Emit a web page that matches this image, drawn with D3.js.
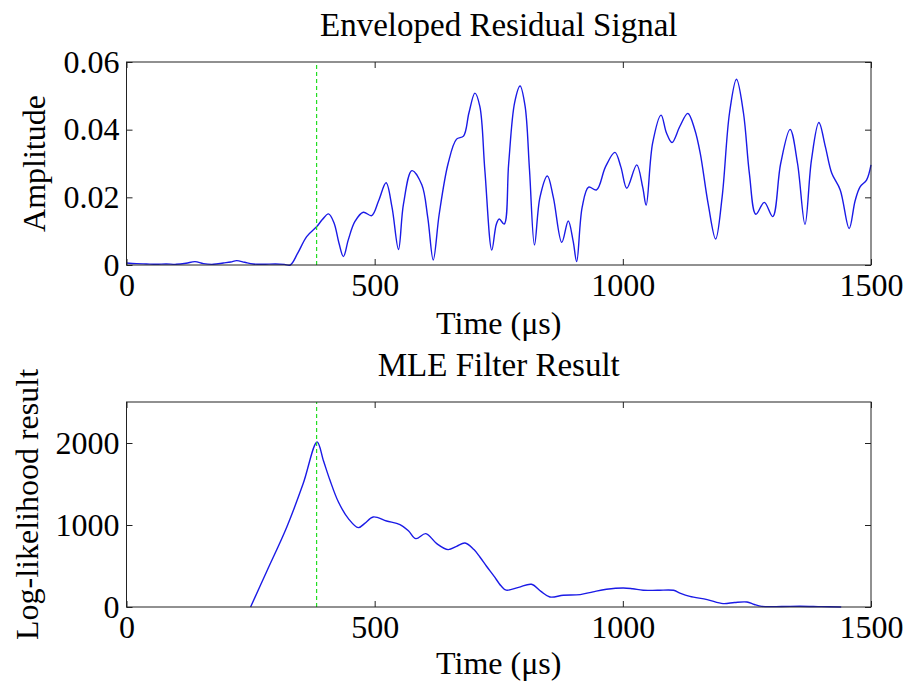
<!DOCTYPE html>
<html>
<head>
<meta charset="utf-8">
<script src="https://cdn.jsdelivr.net/npm/d3@7"></script>
<style>
  html, body { margin: 0; padding: 0; background: #fff; }
  svg text { font-family: "Liberation Serif", "Times New Roman", serif; fill: #000; }
</style>
</head>
<body>
<svg id="chart" width="907" height="688"></svg>
<script>
// Enveloped residual signal (time in µs, amplitude)
const envTime = [0,20,40,60,80,100,120,138,155,175,195,210,222,238,255,275,300,318,330,345,363,383,395,407,418,428,437,447,460,477,494,508,523,535,548,558,575,595,607,618,630,648,665,679,690,702,712,722,736,745,751,761,770,782,793,803,812,822,833,848,860,877,890,900,907,918,931,947,965,984,996,1008,1028,1040,1047,1060,1077,1088,1099,1115,1131,1145,1156,1172,1187,1200,1215,1229,1243,1255,1268,1285,1302,1318,1337,1352,1367,1380,1395,1408,1421,1438,1456,1468,1478,1491,1500];
const envAmp = [0.0006,0.0004,0.0003,0.0002,0.0003,0.0002,0.0005,0.0010,0.0004,0.0002,0.0006,0.0009,0.0013,0.0008,0.0003,0.0002,0.0003,0.0002,0.0000,0.0035,0.0084,0.0113,0.0135,0.0151,0.0125,0.0065,0.0025,0.0075,0.0128,0.0156,0.0146,0.0190,0.0243,0.0170,0.0046,0.0180,0.0279,0.0237,0.0140,0.0015,0.0150,0.0300,0.0372,0.0381,0.0450,0.0508,0.0468,0.0280,0.0044,0.0120,0.0136,0.0121,0.0300,0.0480,0.0529,0.0470,0.0280,0.0059,0.0200,0.0263,0.0200,0.0067,0.0130,0.0070,0.0010,0.0170,0.0230,0.0222,0.0290,0.0333,0.0290,0.0227,0.0296,0.0230,0.0177,0.0360,0.0443,0.0390,0.0362,0.0410,0.0448,0.0400,0.0330,0.0180,0.0077,0.0200,0.0450,0.0549,0.0450,0.0270,0.0150,0.0185,0.0143,0.0300,0.0401,0.0300,0.0120,0.0310,0.0421,0.0350,0.0271,0.0222,0.0108,0.0190,0.0231,0.0251,0.0296];

// MLE filter output (time in µs, log-likelihood)
const mleTime = [250,282,323,356,384,397,410,427,447,467,480,497,524,551,568,583,603,625,648,665,682,700,712,725,740,755,765,790,816,835,853,880,914,940,967,1001,1020,1041,1070,1102,1115,1135,1170,1202,1225,1250,1265,1280,1320,1357,1400,1440];
const mleValue = [0,427,976,1505,2012,1780,1545,1280,1078,968,1020,1098,1049,1005,930,834,895,773,700,740,780,700,610,500,380,255,205,240,277,190,122,143,151,185,216,232,222,204,204,204,170,130,90,41,55,61,30,8,6,10,4,0];

// Detected onset time
const onsetTime = 383;

// Axis ticks and text
const timeTicks = [0, 500, 1000, 1500];
const ampTicks = [0, 0.02, 0.04, 0.06];
const ampTickLabels = ["0", "0.02", "0.04", "0.06"];
const mleTicks = [0, 1000, 2000];
const titles = ["Enveloped Residual Signal", "MLE Filter Result"];
const xLabel = "Time (\u03bcs)";
const yLabels = ["Amplitude", "Log-likelihood result"];

const svg = d3.select("#chart");
const FONT = 32;
const TITLE_FONT = 33;
const left = 126.5, right = 871;

function panel(cfg) {
  const x = d3.scaleLinear().domain([0, 1500]).range([left, right]);
  const y = d3.scaleLinear().domain(cfg.yDomain).range([cfg.bottom, cfg.top]);
  const g = svg.append("g");

  // data line
  const line = d3.line()
    .x(d => x(d[0])).y(d => y(d[1]))
    .curve(d3.curveCatmullRom.alpha(0.5));
  const pts = cfg.t.map((t, i) => [t, cfg.v[i]]);
  g.append("path").datum(pts)
    .attr("d", line)
    .attr("fill", "none")
    .attr("stroke", "#1a1ae6")
    .attr("stroke-width", 1.4);

  // onset marker
  g.append("line")
    .attr("x1", x(onsetTime)).attr("x2", x(onsetTime))
    .attr("y1", y(cfg.yDomain[0])).attr("y2", y(cfg.yDomain[1]))
    .attr("stroke", "#22dd22").attr("stroke-width", 1.2)
    .attr("stroke-dasharray", "4,3");

  const tk = 6;
  // axes with inward ticks
  const xb = d3.axisBottom(x).tickValues(timeTicks).tickSizeInner(-tk).tickSizeOuter(0).tickPadding(8).tickFormat(d3.format("d"));
  const xt = d3.axisTop(x).tickValues(timeTicks).tickSizeInner(-tk).tickSizeOuter(0).tickFormat("");
  const yl = d3.axisLeft(y).tickValues(cfg.yTicks).tickSizeInner(-tk).tickSizeOuter(0).tickPadding(7).tickFormat((d, i) => cfg.yFmt(d, i));
  const yr = d3.axisRight(y).tickValues(cfg.yTicks).tickSizeInner(-tk).tickSizeOuter(0).tickFormat("");

  const axes = [
    g.append("g").attr("transform", `translate(0,${cfg.bottom})`).call(xb),
    g.append("g").attr("transform", `translate(0,${cfg.top})`).call(xt),
    g.append("g").attr("transform", `translate(${left},0)`).call(yl),
    g.append("g").attr("transform", `translate(${right},0)`).call(yr)
  ];
  axes.forEach(a => {
    a.select(".domain").remove();
    a.selectAll(".tick line").attr("stroke", "#222").attr("stroke-width", 1);
    a.selectAll("text").attr("font-size", FONT)
      .attr("font-family", "Liberation Serif, Times New Roman, serif").attr("fill", "#000");
  });
  axes[0].selectAll("text").attr("dy", "0.71em");

  // box
  g.append("rect")
    .attr("x", left).attr("y", cfg.top)
    .attr("width", right - left).attr("height", cfg.bottom - cfg.top)
    .attr("fill", "none").attr("stroke", "#222").attr("stroke-width", 1);

  const cx = (left + right) / 2;
  g.append("text").attr("x", cx).attr("y", cfg.titleY)
    .attr("text-anchor", "middle").attr("font-size", TITLE_FONT).text(cfg.title);
  g.append("text").attr("x", cx).attr("y", cfg.xLabelY)
    .attr("text-anchor", "middle").attr("font-size", FONT).text(xLabel);
  g.append("text")
    .attr("transform", `translate(${cfg.yLabelX},${(cfg.top + cfg.bottom) / 2}) rotate(-90)`)
    .attr("text-anchor", "middle").attr("font-size", FONT).text(cfg.yLabel);
}

panel({
  top: 62, bottom: 265, yDomain: [0, 0.06], yTicks: ampTicks,
  yFmt: (d, i) => ampTickLabels[i],
  t: envTime, v: envAmp, title: titles[0], titleY: 36, xLabelY: 334,
  yLabel: yLabels[0], yLabelX: 45
});

panel({
  top: 402, bottom: 607, yDomain: [0, 2500], yTicks: mleTicks,
  yFmt: d => d3.format("d")(d),
  t: mleTime, v: mleValue, title: titles[1], titleY: 376, xLabelY: 674,
  yLabel: yLabels[1], yLabelX: 38
});
</script>
</body>
</html>
